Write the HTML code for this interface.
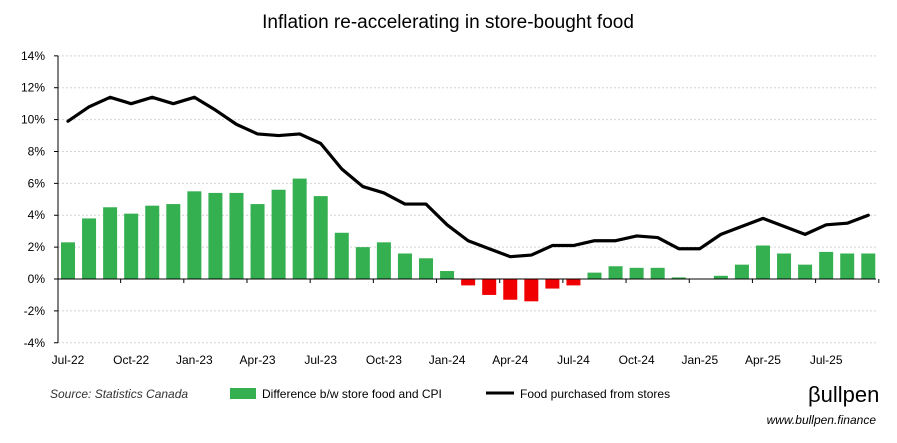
<!DOCTYPE html>
<html><head><meta charset="utf-8"><style>
body{margin:0;background:#fff;font-family:"Liberation Sans",sans-serif}
svg{display:block}
</style></head><body>
<svg id="c" width="897" height="443">
<text x="448" y="28" text-anchor="middle" font-size="19" fill="#000">Inflation re-accelerating in store-bought food</text>
<g id="grid"></g><g id="bars"></g><g id="axes"></g><g id="line"></g>
<text x="50" y="398" font-size="12" font-style="italic" fill="#333">Source: Statistics Canada</text>
<rect x="230" y="388" width="26" height="11" fill="#34b050"/>
<text x="262" y="398" font-size="12" fill="#000">Difference b/w store food and CPI</text>
<line x1="486" y1="393" x2="514" y2="393" stroke="#000" stroke-width="3"/>
<text x="520" y="398" font-size="12" fill="#000">Food purchased from stores</text>
<text x="808" y="402" font-size="22" fill="#000">βullpen</text>
<text x="876" y="424" text-anchor="end" font-size="12" font-style="italic" fill="#000">www.bullpen.finance</text>
</svg>
<script>
const months=["Jul-22","Aug-22","Sep-22","Oct-22","Nov-22","Dec-22","Jan-23","Feb-23","Mar-23","Apr-23","May-23","Jun-23","Jul-23","Aug-23","Sep-23","Oct-23","Nov-23","Dec-23","Jan-24","Feb-24","Mar-24","Apr-24","May-24","Jun-24","Jul-24","Aug-24","Sep-24","Oct-24","Nov-24","Dec-24","Jan-25","Feb-25","Mar-25","Apr-25","May-25","Jun-25","Jul-25","Aug-25","Sep-25"];
const diffValues=[2.3,3.8,4.5,4.1,4.6,4.7,5.5,5.4,5.4,4.7,5.6,6.3,5.2,2.9,2.0,2.3,1.6,1.3,0.5,-0.4,-1.0,-1.3,-1.4,-0.6,-0.4,0.4,0.8,0.7,0.7,0.1,0.0,0.2,0.9,2.1,1.6,0.9,1.7,1.6,1.6];
const foodValues=[9.9,10.8,11.4,11.0,11.4,11.0,11.4,10.6,9.7,9.1,9.0,9.1,8.5,6.9,5.8,5.4,4.7,4.7,3.4,2.4,1.9,1.4,1.5,2.1,2.1,2.4,2.4,2.7,2.6,1.9,1.9,2.8,3.3,3.8,3.3,2.8,3.4,3.5,4.0];
const yTicks=[-4,-2,0,2,4,6,8,10,12,14];
const NS="http://www.w3.org/2000/svg";
const x=i=>68+i*21.06;
const y=v=>279-v*15.94;
function mk(t,a,p){const e=document.createElementNS(NS,t);for(const k in a)e.setAttribute(k,a[k]);document.getElementById(p).appendChild(e);return e;}
yTicks.forEach(t=>{
 if(t!==0){const g=mk('line',{x1:58,x2:876,y1:y(t),y2:y(t),stroke:'#d4d4d4','stroke-dasharray':'2,2'},'grid');
 
 }
 const tl=mk('text',{x:45,y:y(t)+4,'text-anchor':'end','font-size':12},'axes');tl.textContent=t+'%';
 
 
 mk('line',{x1:54,x2:58,y1:y(t),y2:y(t),stroke:'#000'},'axes');
});
diffValues.forEach((v,i)=>{
 const r=mk('rect',{x:x(i)-7,y:Math.min(y(v),y(0)),width:14,height:Math.abs(y(v)-y(0)),fill:v<0?'#f00000':'#34b050'},'bars');
 
 
});
mk('line',{x1:58,x2:58,y1:y(14),y2:y(-4),stroke:'#000'},'axes');
mk('line',{x1:58,x2:876,y1:y(0),y2:y(0),stroke:'#000'},'axes');
months.forEach((m,i)=>{
 if(i%3===2||i===38)mk('line',{x1:x(i)+10.5,x2:x(i)+10.5,y1:y(0),y2:y(0)+4,stroke:'#000'},'axes');
 if(i%3===0){const t=mk('text',{x:x(i),y:364,'text-anchor':'middle','font-size':12},'axes');t.textContent=m;
 
 }
});
const p=mk('polyline',{points:foodValues.map((v,i)=>x(i)+','+y(v)).join(' '),fill:'none',stroke:'#000','stroke-width':3.2,'stroke-linejoin':'round','stroke-linecap':'round'},'line');


</script>
</body></html>
